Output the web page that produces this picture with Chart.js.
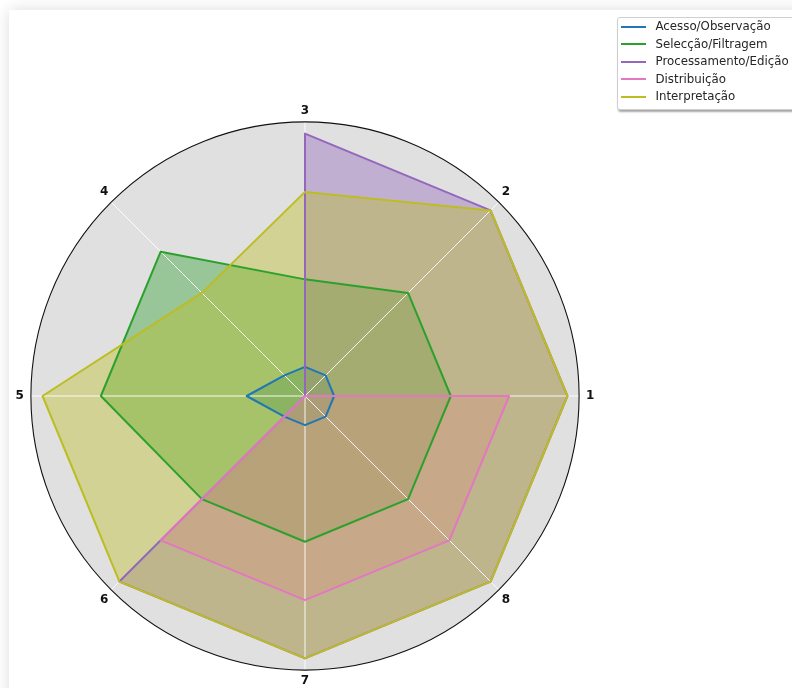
<!DOCTYPE html>
<html>
<head>
<meta charset="utf-8">
<script src="https://cdn.jsdelivr.net/npm/chart.js@4.4.0/dist/chart.umd.min.js"></script>
<style>
html,body{margin:0;padding:0;width:792px;height:688px;overflow:hidden;background:#fff;font-family:"DejaVu Sans",sans-serif;}
#card{position:absolute;left:9px;top:10px;width:830px;height:740px;background:#fff;box-shadow:0 0 14px rgba(0,0,0,0.14);}
#wrap{position:absolute;left:0;top:0;width:792px;height:700px;}
#legend{position:absolute;left:617px;top:17px;width:185px;height:91px;border:1px solid #cfcfcf;border-radius:3px;background:#fff;box-shadow:1px 2px 2px rgba(0,0,0,0.35);}
.row{position:absolute;left:0;height:17px;line-height:17px;font-size:11.8px;color:#262626;white-space:nowrap;}
.swatch{position:absolute;left:3px;top:7.5px;width:25px;height:2px;}
.txt{position:absolute;left:37.5px;top:0;}
</style>
</head>
<body>
<div id="card"></div>
<div id="wrap"><canvas id="c"></canvas></div>
<div id="legend"></div>
<script>
const axisLabels = ['1','2','3','4','5','6','7','8'];
const seriesNames = ['Acesso/Observação','Selecção/Filtragem','Processamento/Edição','Distribuição','Interpretação'];
const acesso        = [1, 1, 1, 1, 2, 1, 1, 1];
const seleccao      = [5, 5, 4, 7, 7, 5, 5, 5];
const processamento = [9, 9, 9, 0, 0, 9, 9, 9];
const distribuicao  = [7, 0, 0, 0, 0, 7, 7, 7];
const interpretacao = [9, 9, 7, 5, 9, 9, 9, 9];
const seriesValues = [acesso, seleccao, processamento, distribuicao, interpretacao];
const colors = ['#1f77b4','#2ca02c','#9467bd','#e377c2','#bcbd22'];
const fills  = ['rgba(31,119,180,0.4)','rgba(44,160,44,0.4)','rgba(148,103,189,0.4)','rgba(227,119,194,0.4)','rgba(188,189,34,0.4)'];
// matplotlib goes counter-clockwise from the east; Chart.js clockwise from the top
const displayOrder = [2,1,0,7,6,5,4,3];
const n = seriesValues.length;

// fills first (below grid), then lines on top — like matplotlib's z-order
const fillSets = seriesValues.map((vals, i) => ({
  label: seriesNames[i] + ' (fill)',
  data: displayOrder.map(k => vals[k]),
  borderWidth: 0,
  borderColor: 'rgba(0,0,0,0)',
  backgroundColor: fills[i],
  pointRadius: 0, pointHoverRadius: 0,
  fill: true, tension: 0,
  order: 10 + (n - 1 - i)
}));
const lineSets = seriesValues.map((vals, i) => ({
  label: seriesNames[i],
  data: displayOrder.map(k => vals[k]),
  borderColor: colors[i],
  backgroundColor: 'rgba(0,0,0,0)',
  borderWidth: 2,
  pointRadius: 0, pointHoverRadius: 0,
  fill: false, tension: 0,
  borderJoinStyle: 'round',
  order: n - 1 - i
}));

const bgPlugin = {
  id: 'polarBg',
  beforeDraw(chart) {
    const s = chart.scales.r, ctx = chart.ctx;
    ctx.save();
    ctx.beginPath();
    ctx.arc(s.xCenter, s.yCenter, s.drawingArea, 0, Math.PI * 2);
    ctx.fillStyle = '#e0e0e0';
    ctx.fill();
    ctx.restore();
  },
  afterDatasetDraw(chart, args) {
    if (args.index !== n - 1) return; // after the last fill: grid lines
    const s = chart.scales.r, ctx = chart.ctx;
    ctx.save();
    ctx.strokeStyle = 'rgba(255,255,255,0.9)';
    ctx.lineWidth = 1;
    for (let i = 0; i < chart.data.labels.length; i++) {
      const p = s.getPointPosition(i, s.drawingArea);
      ctx.beginPath();
      ctx.moveTo(s.xCenter, s.yCenter);
      ctx.lineTo(p.x, p.y);
      ctx.stroke();
    }
    ctx.restore();
  },
  afterDatasetsDraw(chart) {
    const s = chart.scales.r, ctx = chart.ctx;
    ctx.save();
    ctx.beginPath();
    ctx.arc(s.xCenter, s.yCenter, s.drawingArea, 0, Math.PI * 2);
    ctx.strokeStyle = '#111';
    ctx.lineWidth = 1.1;
    ctx.stroke();
    ctx.restore();
  }
};

new Chart(document.getElementById('c'), {
  type: 'radar',
  data: { labels: displayOrder.map(k => axisLabels[k]), datasets: fillSets.concat(lineSets) },
  options: {
    responsive: true,
    maintainAspectRatio: false,
    animation: false,
    layout: { padding: { left: 13.5, top: 104, right: 194.5, bottom: 12 } },
    plugins: { legend: { display: false }, tooltip: { enabled: false } },
    scales: {
      r: {
        min: 0, max: 9.4,
        ticks: { display: false },
        grid: { display: false },
        angleLines: { display: false },
        pointLabels: {
          display: true, color: '#111',
          padding: (ctx) => (ctx.index % 4 === 0 ? 3.5 : (ctx.index % 4 === 2 ? 7 : 4)),
          font: { family: 'DejaVu Sans', size: 12, weight: 'bold' }
        }
      }
    }
  },
  plugins: [bgPlugin]
});

const leg = document.getElementById('legend');
seriesNames.forEach((name, i) => {
  const row = document.createElement('div');
  row.className = 'row';
  row.style.top = (0.4 + i * 17.5) + 'px';
  row.style.width = '185px';
  const sw = document.createElement('div');
  sw.className = 'swatch';
  sw.style.background = colors[i];
  const t = document.createElement('span');
  t.className = 'txt';
  t.textContent = name;
  row.appendChild(sw); row.appendChild(t);
  leg.appendChild(row);
});
</script>
</body>
</html>
